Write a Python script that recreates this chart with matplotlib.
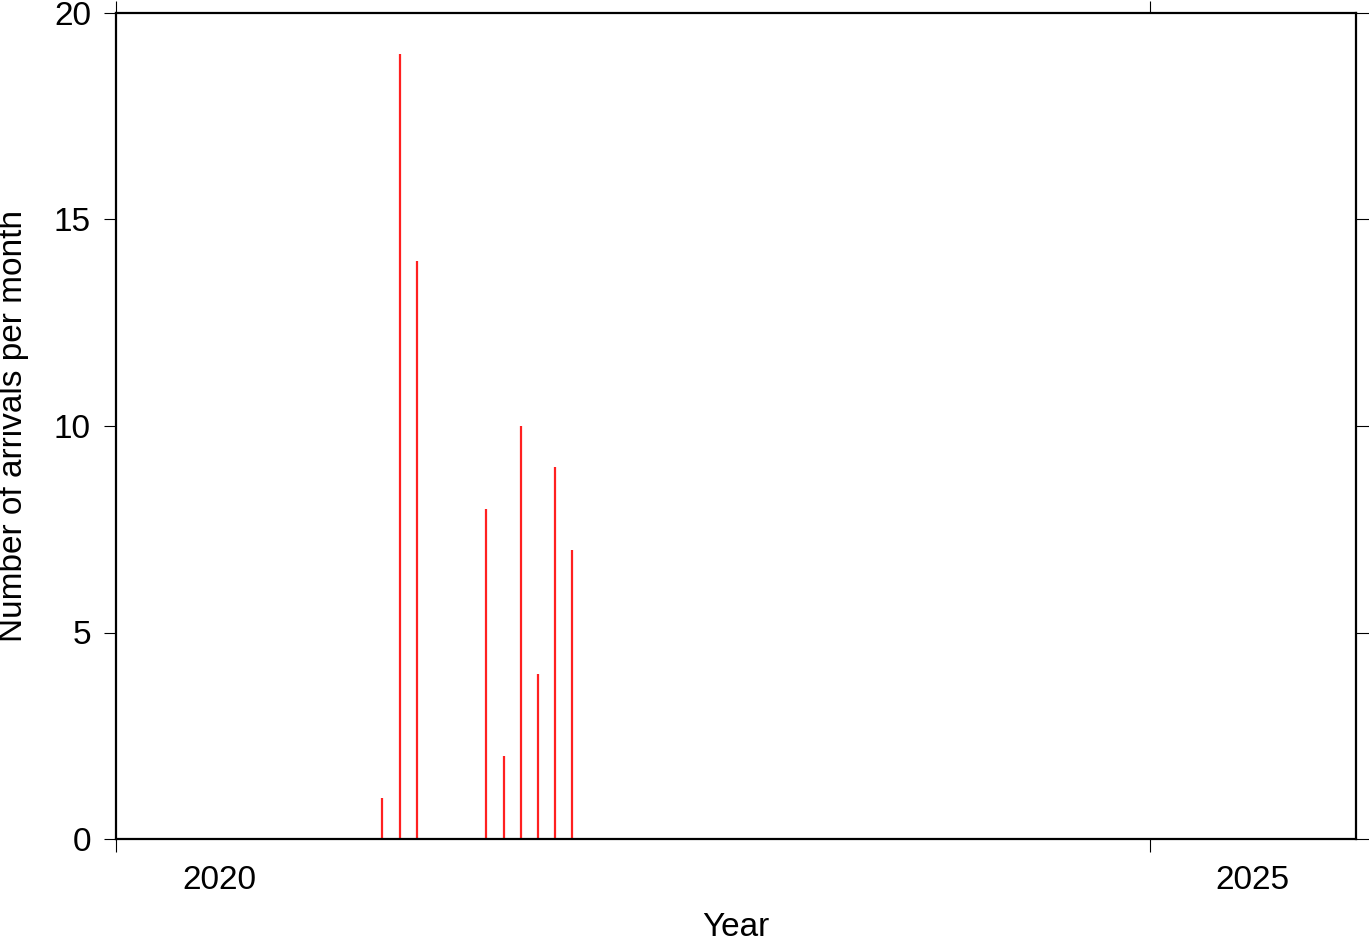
import matplotlib
matplotlib.use("Agg")
import matplotlib.pyplot as plt
import matplotlib.dates as mdates
import pandas as pd

plt.rcParams['font.family'] = ['Liberation Sans', 'DejaVu Sans']

months = ["2021-04", "2021-05", "2021-06", "2021-07", "2021-08", "2021-09",
          "2021-10", "2021-11", "2021-12", "2022-01", "2022-02", "2022-03"]
arrivals = [1, 19, 14, 0, 0, 0, 8, 2, 10, 4, 9, 7]
year_ticks = ["2020", "2025"]

starts = pd.to_datetime(months)
mids = starts + (starts + pd.offsets.MonthBegin(1) - starts) / 2
x = mdates.date2num(mids.to_pydatetime())

fig = plt.figure(figsize=(13.69, 9.42), dpi=100)
ax = fig.add_axes([116/1369, 103/942, 1240/1369, 826/942])

ax.vlines(x, 0, arrivals, color='#ff2020', lw=1.6)

ax.set_xlim(mdates.date2num(pd.Timestamp("2020-01-01")), mdates.date2num(pd.Timestamp("2026-01-01")))
ax.set_ylim(0, 20)

major = [mdates.date2num(pd.Timestamp(f"{y}-01-01")) for y in year_ticks]
minor = [mdates.date2num(pd.Timestamp(f"{y}-07-02")) for y in year_ticks]
ax.set_xticks(major)
ax.set_xticklabels([])
ax.set_xticks(minor, minor=True)
ax.set_xticklabels(year_ticks, minor=True)
ax.set_yticks([0, 5, 10, 15, 20])
ax.set_yticklabels(["0", "5", "10", "15", "20"])

for s in ax.spines.values():
    s.set_linewidth(1.6)

ax.tick_params(which='major', direction='out', length=9, width=0.8,
               top=True, right=True, labelsize=24, pad=9)
ax.tick_params(axis='x', which='minor', length=0, labelsize=24, pad=19, top=False)

fig.text(736/1369, 14/942, "Year", ha='center', va='center', fontsize=24)
fig.text(14/1369, 516/942, "Number of arrivals per month", ha='center', va='center',
         rotation=90, fontsize=24)

fig.savefig("out.png", dpi=100)
